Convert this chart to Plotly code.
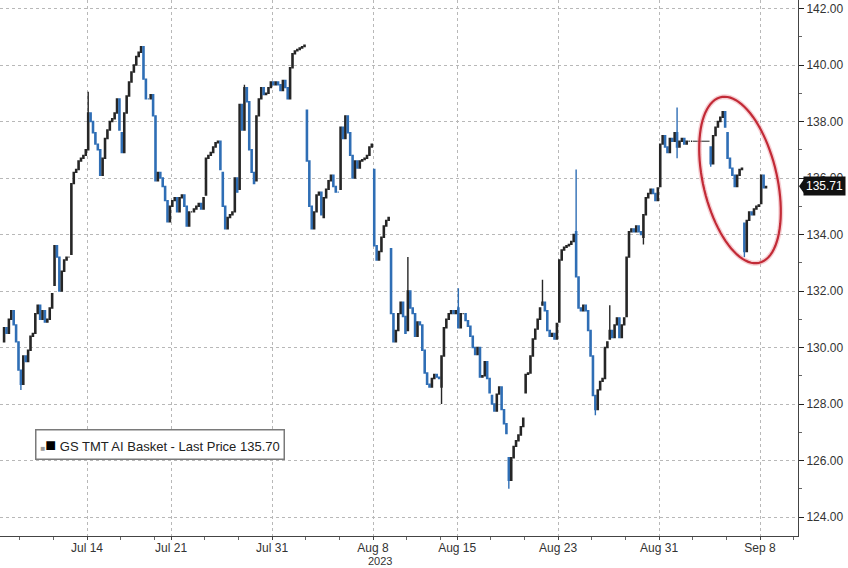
import numpy as np
import plotly.graph_objects as go

# ---------------- data ----------------
# each session: opening price followed by hourly closes
jul07 = [130.2, 130.7, 130.5, 131.0, 131.3, 130.8, 130.2, 129.2]
jul10 = [129.2, 128.7, 129.7, 129.5, 129.9, 130.4, 130.5, 131.2]
jul11 = [131.2, 131.5, 131.0, 131.3, 130.9, 131.0, 131.4, 131.9]
jul12 = [132.2, 133.6, 133.2, 132.0, 132.7, 133.1, 133.2, 133.2]
jul13 = [133.3, 135.8, 136.2, 136.3, 136.6, 136.7, 136.8, 137.0]
jul14 = [137.0, 138.3, 138.0, 137.6, 137.2, 137.0, 136.1, 136.7]
jul17 = [136.7, 137.4, 137.7, 138.0, 138.1, 138.3, 138.8, 137.7]
jul18 = [137.6, 136.9, 138.3, 138.9, 139.4, 139.75, 140.0, 140.3]
jul19 = [140.3, 140.45, 140.65, 139.5, 138.8, 138.8, 138.95, 138.2]
jul20 = [138.2, 135.9, 136.2, 136.0, 135.7, 135.2, 134.45, 135.0]
jul21 = [135.0, 135.2, 135.3, 134.8, 135.3, 135.4, 135.0, 134.3]
jul24 = [134.3, 134.8, 134.8, 134.9, 135.0, 135.1, 134.9, 135.3]
jul25 = [135.4, 136.7, 136.8, 136.9, 137.1, 137.25, 137.3, 136.3]
jul26 = [136.2, 135.0, 134.2, 134.6, 134.7, 134.8, 136.0, 135.5]
jul27 = [135.6, 138.6, 137.7, 139.2, 138.7, 137.0, 136.2, 135.8]
jul28 = [135.9, 138.2, 138.8, 139.2, 138.95, 139.0, 139.2, 139.4]
jul31 = [139.4, 139.3, 139.4, 139.3, 139.1, 139.45, 139.2, 138.8]
aug01 = [138.8, 139.9, 140.4, 140.5, 140.55, 140.6, 140.65, 140.7]
aug02 = [138.4, 136.6, 135.0, 134.2, 134.8, 135.4, 135.5, 134.7]
aug03 = [134.6, 135.3, 135.6, 135.9, 136.1, 135.7, 135.5, 135.5]
aug04 = [135.6, 137.8, 137.4, 138.2, 137.6, 136.8, 136.0, 136.6]
aug07 = [136.6, 136.35, 136.6, 136.65, 136.7, 136.8, 137.1, 137.2]
aug08 = [136.3, 133.6, 133.1, 133.4, 133.9, 134.3, 134.5, 134.6]
aug09 = [133.5, 131.2, 130.2, 130.6, 131.2, 131.6, 131.1, 130.5]
aug10 = [130.6, 132.0, 131.4, 131.2, 130.4, 130.9, 130.8, 129.9]
aug11 = [129.9, 129.1, 128.7, 128.6, 128.9, 129.05, 128.95, 128.9]
aug14 = [128.6, 129.7, 130.7, 131.0, 131.2, 131.3, 131.2, 131.3]
aug15 = [131.4, 130.7, 131.2, 131.2, 130.95, 130.75, 130.4, 130.0]
aug16 = [130.0, 129.75, 130.0, 128.95, 129.0, 129.5, 128.9, 128.4]
aug17 = [128.3, 128.0, 127.75, 128.35, 128.6, 127.8, 127.3, 126.95]
aug18 = [126.1, 125.3, 126.1, 126.5, 126.7, 126.9, 127.2, 127.5]
aug21 = [128.4, 129.05, 129.1, 129.7, 130.3, 130.65, 131.0, 131.4]
aug22 = [131.5, 131.6, 131.3, 130.6, 130.4, 130.5, 130.3, 130.85]
aug23 = [130.9, 133.1, 133.45, 133.55, 133.6, 133.65, 133.75, 134.0]
aug24 = [134.1, 132.5, 131.4, 131.3, 131.5, 131.3, 130.6, 129.7]
aug25 = [129.7, 128.3, 127.8, 128.5, 128.8, 128.9, 130.0, 130.2]
aug28 = [130.3, 130.6, 130.35, 130.8, 131.05, 130.35, 130.8, 131.05]
aug29 = [131.1, 133.2, 134.1, 134.2, 134.1, 134.3, 134.1, 134.0]
aug30 = [133.9, 134.7, 135.3, 135.45, 135.6, 135.45, 135.2, 135.65]
aug31 = [135.7, 137.2, 137.5, 137.1, 136.9, 137.4, 137.3, 137.6]
sep01 = [137.6, 137.1, 137.3, 137.4, 137.2, 137.3, 137.3, 137.3]
sep05 = [137.1, 136.5, 137.5, 137.8, 138.0, 138.15, 138.35, 137.8]
sep06 = [137.6, 136.7, 136.35, 136.1, 135.7, 136.1, 136.3, 136.35]
sep07 = [134.4, 133.4, 134.5, 134.8, 134.7, 134.9, 135.0, 135.05]
sep08 = [135.1, 136.1, 135.65, 135.7]

SESSIONS = [
    ("2023-07-07", jul07), ("2023-07-10", jul10), ("2023-07-11", jul11),
    ("2023-07-12", jul12), ("2023-07-13", jul13), ("2023-07-14", jul14),
    ("2023-07-17", jul17), ("2023-07-18", jul18), ("2023-07-19", jul19),
    ("2023-07-20", jul20), ("2023-07-21", jul21), ("2023-07-24", jul24),
    ("2023-07-25", jul25), ("2023-07-26", jul26), ("2023-07-27", jul27),
    ("2023-07-28", jul28), ("2023-07-31", jul31), ("2023-08-01", aug01),
    ("2023-08-02", aug02), ("2023-08-03", aug03), ("2023-08-04", aug04),
    ("2023-08-07", aug07), ("2023-08-08", aug08), ("2023-08-09", aug09),
    ("2023-08-10", aug10), ("2023-08-11", aug11), ("2023-08-14", aug14),
    ("2023-08-15", aug15), ("2023-08-16", aug16), ("2023-08-17", aug17),
    ("2023-08-18", aug18), ("2023-08-21", aug21), ("2023-08-22", aug22),
    ("2023-08-23", aug23), ("2023-08-24", aug24), ("2023-08-25", aug25),
    ("2023-08-28", aug28), ("2023-08-29", aug29), ("2023-08-30", aug30),
    ("2023-08-31", aug31), ("2023-09-01", sep01), ("2023-09-05", sep05),
    ("2023-09-06", sep06), ("2023-09-07", sep07), ("2023-09-08", sep08),
]
HOLIDAYS = ["2023-09-04"]          # market closed, drawn flat
HIGH_WICKS = {("2023-07-14", 0): 139.05, ("2023-08-10", 0): 133.2,
              ("2023-08-15", 0): 132.1, ("2023-08-22", 0): 132.4,
              ("2023-08-24", 0): 136.3, ("2023-08-28", 0): 131.5,
              ("2023-09-01", 0): 138.5, ("2023-07-27", 2): 139.3}
LOW_WICKS = {("2023-07-10", 0): 128.5, ("2023-08-14", 0): 128.0,
             ("2023-08-18", 0): 125.0, ("2023-08-25", 1): 127.6,
             ("2023-08-30", 0): 133.65, ("2023-09-07", 0): 133.2,
             ("2023-09-01", 0): 136.7, ("2023-09-05", 0): 136.4}
TICK_DATES = ["2023-07-14", "2023-07-21", "2023-07-31", "2023-08-08",
              "2023-08-15", "2023-08-23", "2023-08-31", "2023-09-08"]
TICK_LABELS = ["Jul 14", "Jul 21", "Jul 31", "Aug 8",
               "Aug 15", "Aug 23", "Aug 31", "Sep 8"]
YEAR_LABEL = ("2023-08-08", "2023")
Y_TICKS = [124, 126, 128, 130, 132, 134, 136, 138, 140, 142]
SERIES_NAME = "GS TMT AI Basket - Last Price"
LAST_PRICE = 135.70
LAST_TAG = 135.71
BARS_PER_DAY = 7

# ---------------- build OHLC ----------------
BASE = "2023-07-14"
def day_pos(d):
    return int(np.busday_count(BASE, d))

xs, o_, h_, l_, c_ = [], [], [], [], []
for date, vals in SESSIONS:
    d0 = day_pos(date)
    op = vals[0]
    for k, cl in enumerate(vals[1:]):
        xs.append(d0 + (k + 0.5) / BARS_PER_DAY)
        o_.append(op)
        c_.append(cl)
        h_.append(max(op, cl, HIGH_WICKS.get((date, k), -1e9)))
        l_.append(min(op, cl, LOW_WICKS.get((date, k), 1e9)))
        op = cl

fig = go.Figure()
fig.add_trace(go.Candlestick(
    x=xs, open=o_, high=h_, low=l_, close=c_, name=SERIES_NAME,
    increasing=dict(line=dict(color="#262626", width=1.4), fillcolor="#6a6a6a"),
    decreasing=dict(line=dict(color="#2f6eb5", width=1.4), fillcolor="#6aa5de"),
    whiskerwidth=0, showlegend=False, hoverinfo="skip"))

# holiday: flat line at previous close
for hd in HOLIDAYS:
    prev = [v for dt, v in SESSIONS if dt < hd][-1][-1]
    p = day_pos(hd)
    fig.add_trace(go.Scatter(x=[p, p + 1], y=[prev, prev], mode="lines",
                             line=dict(color="#555555", width=1.3),
                             showlegend=False, hoverinfo="skip"))

tickvals = [day_pos(d) for d in TICK_DATES]
minor = sorted(set([t + 2 for t in tickvals] + [t + 4 for t in tickvals]
                   + [tickvals[0] - 2, tickvals[0] - 4]))

W, H = 848, 568
ML, MR, MT, MB = 0, 50, 0, 32
PW, PH = W - ML - MR, H - MT - MB
PX_PER_DAY = 16.825
x0 = tickvals[0] - 87 / PX_PER_DAY
x1 = x0 + PW / PX_PER_DAY

FONT = "Liberation Sans, Arial, sans-serif"
grid = "#b8b8b8"
fig.update_layout(
    width=W, height=H, margin=dict(l=ML, r=MR, t=MT, b=MB, autoexpand=False),
    paper_bgcolor="white", plot_bgcolor="white",
    font=dict(family=FONT, size=12, color="#333333"),
    xaxis=dict(range=[x0, x1], tickmode="array", tickvals=tickvals,
               ticktext=TICK_LABELS, showgrid=True, gridcolor=grid,
               griddash="dot", gridwidth=1, showline=True, linecolor="#444",
               linewidth=1, ticks="outside", ticklen=3, tickcolor="#444",
               ticklabelstandoff=-2,
               rangeslider=dict(visible=False), zeroline=False,
               tickfont=dict(size=12, color="#333"),
               minor=dict(tickvals=minor, ticks="outside", ticklen=3,
                          tickcolor="#666", showgrid=False)),
    yaxis=dict(side="right", range=[124 - 19 / 28.25, 142 + 8.5 / 28.25],
               tickmode="array", tickvals=Y_TICKS,
               ticktext=[f"{v:.2f}" for v in Y_TICKS],
               showgrid=True, gridcolor=grid, griddash="dot", gridwidth=1,
               showline=True, linecolor="#444", linewidth=1, ticks="outside",
               ticklen=5, tickcolor="#222", zeroline=False,
               tickfont=dict(size=12, color="#333"),
               minor=dict(dtick=1, ticks="outside", ticklen=3,
                          tickcolor="#666", showgrid=False)),
)

# year label under its date tick
fig.add_annotation(xref="x", yref="paper", x=day_pos(YEAR_LABEL[0]) + 0.4,
                   y=0, yanchor="top", yshift=-17, showarrow=False,
                   text=YEAR_LABEL[1], font=dict(family=FONT, size=11, color="#333"))

# legend box
fig.add_annotation(
    xref="paper", yref="paper", x=35 / PW, y=(PH - 444) / PH,
    xanchor="left", yanchor="middle", showarrow=False,
    text=("<span style='font-size:8px;color:#9a9a9a'>■</span>"
          "<span style='font-size:18px;color:#000'>■</span> "
          f"{SERIES_NAME} {LAST_PRICE:.2f}"),
    font=dict(family=FONT, size=13, color="#222"),
    bgcolor="white", bordercolor="#7a7a7a", borderwidth=1.5, borderpad=4)

# last price tag with small pointer
fig.add_annotation(
    xref="paper", yref="y", x=1.0, y=LAST_TAG, xanchor="left",
    yanchor="middle", xshift=5, showarrow=False, text=f"{LAST_TAG:.2f}",
    font=dict(family=FONT, size=12, color="white"), bgcolor="#111111",
    borderpad=2)
fig.add_shape(type="path", xref="paper", yref="y", fillcolor="#111111",
              line=dict(width=0),
              path=(f"M {1 + 1 / PW:.5f},{LAST_TAG} "
                    f"L {1 + 6 / PW:.5f},{LAST_TAG + 0.25} "
                    f"L {1 + 6 / PW:.5f},{LAST_TAG - 0.25} Z"))

# red ellipse highlight (tilted), pixel-based then to paper coords
cx, cy, a, b, th = 740, 180, 85, 37, np.radians(13)
t = np.linspace(0, 2 * np.pi, 90)
px = cx + a * np.cos(t) * np.sin(th) + b * np.sin(t) * np.cos(th)
py = cy + a * np.cos(t) * np.cos(th) - b * np.sin(t) * np.sin(th)
path = "M " + " L ".join(f"{x / PW:.5f},{(PH - y) / PH:.5f}"
                         for x, y in zip(px, py)) + " Z"
fig.add_shape(type="path", xref="paper", yref="paper", path=path,
              line=dict(color="rgba(235,150,160,0.45)", width=5))
fig.add_shape(type="path", xref="paper", yref="paper", path=path,
              line=dict(color="#c22a36", width=2.2))

fig.write_html("out.html", config={"displayModeBar": False},
               post_script="document.body.style.margin='0';"
                           "document.body.style.overflow='hidden';")
